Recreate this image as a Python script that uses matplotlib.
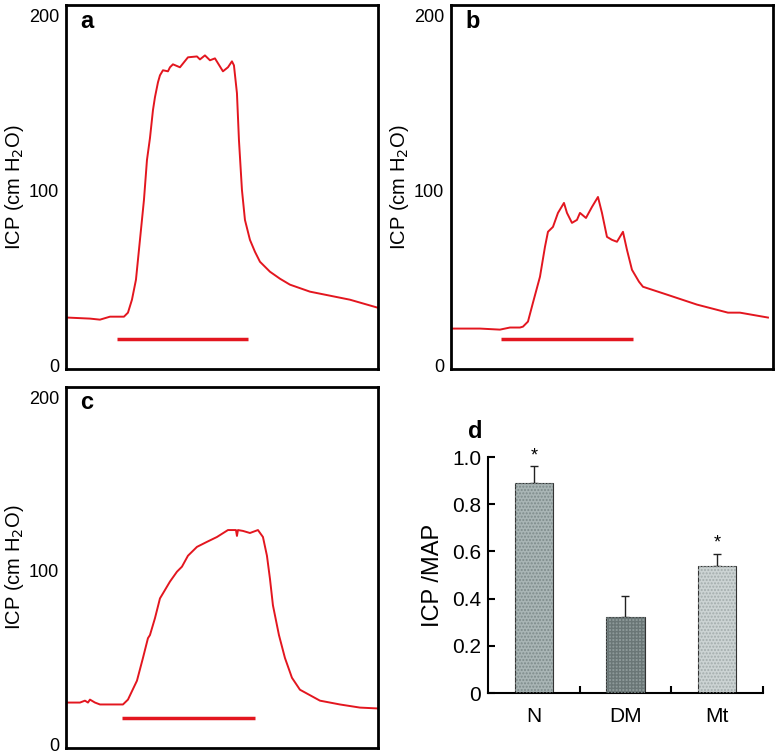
import matplotlib
matplotlib.use('Agg')
import matplotlib.pyplot as plt

plt.rcParams['font.family'] = ['Liberation Sans', 'DejaVu Sans']

# ---- data -------------------------------------------------------------
# panel a trace (time in arbitrary units, ICP in cm H2O)
a_t = [1, 24, 34, 44, 58, 62, 66, 70, 74, 78, 81, 84, 87, 89, 92, 94, 97,
       102, 104, 107, 114, 122, 131, 134, 139, 144, 149, 157, 162, 166, 168,
       171, 173, 176, 179, 184, 189, 194, 204, 214, 224, 244, 264, 284, 312]
a_icp = [27.4, 26.8, 26.2, 27.9, 27.9, 30.2, 37.6, 49.0, 71.8, 94.6, 117.4,
         129.9, 145.9, 153.3, 161.8, 165.8, 168.7, 168.1, 170.4, 172.1, 170.4,
         176.1, 176.6, 174.9, 177.2, 174.4, 175.5, 168.1, 170.4, 173.8, 171.5,
         155.6, 128.8, 100.3, 83.2, 71.8, 65.0, 59.3, 53.6, 49.6, 46.2, 42.2,
         39.9, 37.6, 33.0]
a_stim = [51, 182]

# panel b trace
b_t = [2, 29, 49, 59, 69, 72, 77, 82, 89, 94, 97, 102, 107, 113, 116, 121,
       126, 129, 135, 141, 147, 151, 156, 161, 166, 172, 176, 181, 188, 192,
       216, 246, 277, 289, 317]
b_icp = [21.1, 21.1, 20.5, 21.7, 21.7, 22.2, 25.1, 35.9, 50.7, 67.8, 76.4,
         79.2, 87.2, 92.9, 87.2, 81.5, 83.2, 87.2, 84.3, 90.6, 96.3, 87.2,
         73.5, 71.8, 70.7, 76.4, 66.1, 54.7, 47.9, 45.0, 40.5, 34.8, 30.2,
         30.2, 27.4]
b_stim = [50, 182]

# panel c trace
c_t = [1, 14, 19, 22, 24, 29, 34, 44, 57, 62, 71, 77, 82, 84, 89, 94, 97,
       104, 111, 116, 122, 131, 141, 151, 162, 170, 171, 172, 177, 184, 192,
       197, 201, 204, 207, 213, 219, 226, 234, 254, 274, 294, 312]
c_icp = [24.0, 24.0, 25.1, 24.0, 25.7, 24.0, 22.9, 22.9, 22.9, 25.7, 36.6,
         49.7, 61.1, 62.9, 72.6, 84.0, 86.9, 93.7, 99.4, 102.3, 108.6, 113.7,
         116.6, 119.4, 123.4, 123.4, 120.0, 123.4, 122.9, 121.7, 123.4, 119.4,
         108.6, 95.4, 80.0, 62.9, 49.7, 38.3, 31.4, 25.1, 22.9, 21.1, 20.6]
c_stim = [56, 189]

# panel d bars
groups = ['N', 'DM', 'Mt']
ratio = [0.89, 0.32, 0.54]
ratio_err = [0.07, 0.09, 0.05]
signif = ['*', '', '*']

# ---- figure -------------------------------------------------------------
RED = '#e3161f'
fig = plt.figure(figsize=(7.77, 7.56), dpi=100)


def trace_panel(rect, t, icp, stim, letter, width):
    ax = fig.add_axes(rect)
    ax.plot(t, icp, color=RED, lw=1.4)
    ax.plot(stim, [15, 15], color=RED, lw=2.5, solid_capstyle='butt')
    ax.set_xlim(0, width)
    ax.set_ylim(-2, 206)
    ax.set_xticks([])
    ax.set_yticks([0, 100, 200])
    ax.set_yticklabels(['0', '100', '200'], fontsize=13)
    ax.tick_params(axis='y', length=0, pad=5)
    for s in ax.spines.values():
        s.set_linewidth(2)
    ax.set_ylabel('ICP (cm H$_2$O)', fontsize=14.5, labelpad=2)
    ax.text(0.045, 0.955, letter, transform=ax.transAxes, fontsize=17,
            fontweight='bold', ha='left', va='center')
    return ax


trace_panel([0.0849, 0.5119, 0.4015, 0.4815], a_t, a_icp, a_stim, 'a', 312)
trace_panel([0.5804, 0.5119, 0.4144, 0.4815], b_t, b_icp, b_stim, 'b', 322)
trace_panel([0.0849, 0.0110, 0.4015, 0.4775], c_t, c_icp, c_stim, 'c', 312)

# panel d
axd = fig.add_axes([0.628, 0.0833, 0.354, 0.3122])
faces = ['#a9b5b5', '#8d9999', '#ccd3d3']
hatches = ['.....', '+++++', '.....']
hcols = ['#7d8a8a', '#6a7676', '#a3acac']
x = list(range(len(groups)))
axd.bar(x, ratio, width=0.42, color=faces, edgecolor='#333333', lw=0.8,
        zorder=2)
for xi, v, h, hc in zip(x, ratio, hatches, hcols):
    axd.bar(xi, v, width=0.42, color='none', edgecolor=hc, hatch=h, lw=0,
            zorder=3)
axd.errorbar(x, ratio, yerr=[[0] * 3, ratio_err], fmt='none', ecolor='#222222',
             elinewidth=1, capsize=3, capthick=1, zorder=1)
for xi, v, e, s in zip(x, ratio, ratio_err, signif):
    if s:
        axd.text(xi, v + e + 0.01, s, ha='center', va='bottom', fontsize=13)
axd.set_xlim(-0.5, 2.5)
axd.set_ylim(0, 1.0)
axd.set_yticks([0, 0.2, 0.4, 0.6, 0.8, 1.0])
axd.set_yticklabels(['0', '0.2', '0.4', '0.6', '0.8', '1.0'], fontsize=15)
axd.set_xticks(x)
axd.set_xticklabels(groups, fontsize=15)
axd.set_xticks([0.5, 1.5, 2.5], minor=True)
axd.tick_params(axis='x', which='major', length=0, pad=10)
axd.tick_params(axis='x', which='minor', direction='in', length=5, width=1.5)
axd.tick_params(axis='y', direction='in', length=5, width=1.5, pad=5)
axd.spines['top'].set_visible(False)
axd.spines['right'].set_visible(False)
axd.spines['left'].set_linewidth(1.5)
axd.spines['bottom'].set_linewidth(1.5)
axd.set_ylabel('ICP /MAP', fontsize=17, labelpad=6)
axd.text(-0.64, 1.106, 'd', fontsize=17, fontweight='bold', ha='center',
         va='center', transform=axd.transData)

fig.savefig('out.png', dpi=100, facecolor='white')
